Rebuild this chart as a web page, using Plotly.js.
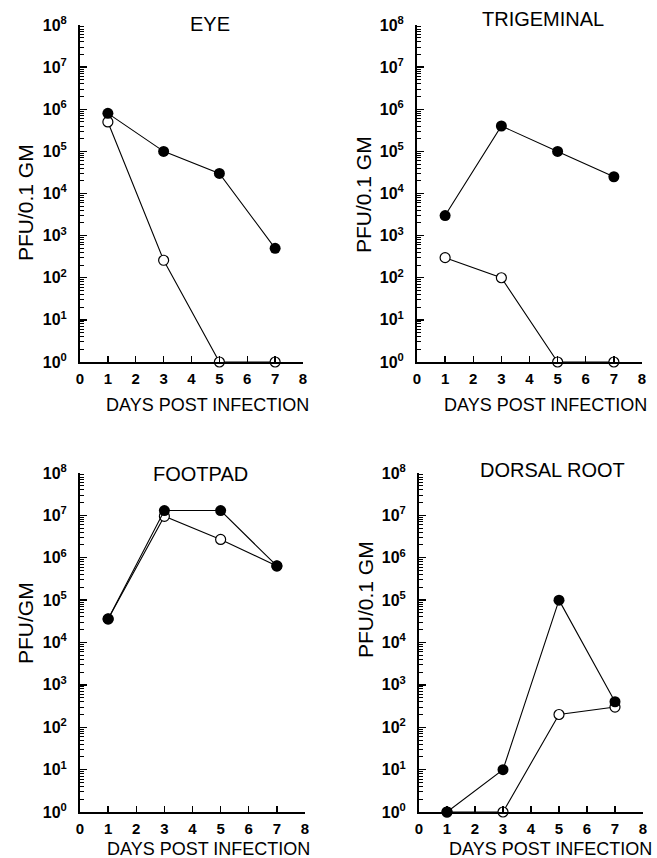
<!DOCTYPE html>
<html>
<head>
<meta charset="utf-8">
<script src="https://cdn.plot.ly/plotly-3.0.1.min.js"></script>
<style>html,body{margin:0;padding:0;background:#fff;}</style>
</head>
<body>
<div id="chart" style="width:657px;height:858px;"></div>
<script>
// ---- data ----
const days = [1, 3, 5, 7];
const panelTitles = ["EYE", "TRIGEMINAL", "FOOTPAD", "DORSAL ROOT"];
const yTitles = ["PFU/0.1 GM", "PFU/0.1 GM", "PFU/GM", "PFU/0.1 GM"];
const xTitle = "DAYS POST INFECTION";
const eyeFilled = [8e5, 1e5, 3e4, 500];
const eyeOpen = [5e5, 260, 1, 1];
const trigFilled = [3000, 4e5, 1e5, 2.5e4];
const trigOpen = [300, 100, 1, 1];
const footFilled = [3.6e4, 1.3e7, 1.3e7, 6.4e5];
const footOpen = [3.6e4, 9.5e6, 2.7e6, 6.4e5];
const dorsalFilled = [1, 10, 1e5, 400];
const dorsalOpen = [1, 1, 200, 300];
const xTickVals = [0, 1, 2, 3, 4, 5, 6, 7, 8];
const yTickVals = [1, 10, 100, 1e3, 1e4, 1e5, 1e6, 1e7, 1e8];
const yTickText = ["10<sup>0</sup>", "10<sup>1</sup>", "10<sup>2</sup>", "10<sup>3</sup>", "10<sup>4</sup>", "10<sup>5</sup>", "10<sup>6</sup>", "10<sup>7</sup>", "10<sup>8</sup>"];

const openSeries = [eyeOpen, trigOpen, footOpen, dorsalOpen];
const filledSeries = [eyeFilled, trigFilled, footFilled, dorsalFilled];

// ---- layout geometry (pixels) ----
const W = 657, H = 858;
const panels = [
  {x0: 80, x1: 303, yTop: 25, yBot: 362, title: [210, 24], xt: [207, 405], yt: [25, 203]},
  {x0: 417, x1: 642, yTop: 25, yBot: 362, title: [543, 19], xt: [545, 405], yt: [363, 195]},
  {x0: 80, x1: 305, yTop: 473, yBot: 812, title: [200, 474], xt: [208, 849], yt: [25, 623]},
  {x0: 419, x1: 643, yTop: 473, yBot: 812, title: [552, 470], xt: [550, 849], yt: [365, 600]}
];
const px = x => x / W;
const py = y => 1 - y / H;

const minorVals = [];
for (let e = 0; e < 8; e++) for (let m = 2; m <= 9; m++) minorVals.push(m * Math.pow(10, e));

const FONT = "Liberation Sans, Arial, sans-serif";
const traces = [];
const layout = {
  width: W, height: H,
  margin: {l: 0, r: 0, t: 0, b: 0},
  paper_bgcolor: "#fff", plot_bgcolor: "#fff",
  showlegend: false,
  annotations: []
};

panels.forEach((p, i) => {
  const n = i === 0 ? "" : String(i + 1);
  const xa = "x" + n, ya = "y" + n;
  traces.push({
    x: days, y: openSeries[i], xaxis: xa, yaxis: ya,
    mode: "lines+markers", cliponaxis: false,
    line: {color: "#000", width: 1.1},
    marker: {symbol: "circle", size: 10, color: "#fff", line: {color: "#000", width: 1.2}}
  });
  traces.push({
    x: days, y: filledSeries[i], xaxis: xa, yaxis: ya,
    mode: "lines+markers", cliponaxis: false,
    line: {color: "#000", width: 1.1},
    marker: {symbol: "circle", size: 11, color: "#000", line: {color: "#000", width: 0}}
  });
  layout["xaxis" + n] = {
    domain: [px(p.x0), px(p.x1)], anchor: ya,
    range: [0, 8], tickmode: "array", tickvals: xTickVals,
    ticks: "inside", ticklen: 6, tickwidth: 1.3, tickcolor: "#000",
    showline: true, linecolor: "#000", linewidth: 2,
    showgrid: false, zeroline: false, fixedrange: true,
    ticklabelstandoff: 2,
    tickfont: {family: FONT, size: 15, color: "#000", weight: "bold"}
  };
  layout["yaxis" + n] = {
    domain: [py(p.yBot), py(p.yTop)], anchor: xa,
    type: "log", range: [0, 8],
    tickmode: "array", tickvals: yTickVals, ticktext: yTickText,
    ticks: "inside", ticklen: 7, tickwidth: 1.3, tickcolor: "#000",
    minor: {tickmode: "array", tickvals: minorVals, ticks: "inside", ticklen: 4, tickwidth: 1, tickcolor: "#000", showgrid: false},
    showline: true, linecolor: "#000", linewidth: 2,
    showgrid: false, zeroline: false, fixedrange: true,
    ticklabelstandoff: 8,
    tickfont: {family: FONT, size: 16, color: "#000", weight: "bold"}
  };
  layout.annotations.push({
    xref: "paper", yref: "paper", x: px(p.title[0]), y: py(p.title[1]),
    xanchor: "center", yanchor: "middle", showarrow: false,
    text: panelTitles[i], font: {family: FONT, size: 20, color: "#000"}
  });
  layout.annotations.push({
    xref: "paper", yref: "paper", x: px(p.xt[0]), y: py(p.xt[1]),
    xanchor: "center", yanchor: "middle", showarrow: false,
    text: xTitle, font: {family: FONT, size: 18, color: "#000"}
  });
  layout.annotations.push({
    xref: "paper", yref: "paper", x: px(p.yt[0]), y: py(p.yt[1]),
    xanchor: "center", yanchor: "middle", showarrow: false, textangle: -90,
    text: yTitles[i], font: {family: FONT, size: 21, color: "#000"}
  });
});

Plotly.newPlot("chart", traces, layout, {displayModeBar: false, staticPlot: true});
</script>
</body>
</html>
